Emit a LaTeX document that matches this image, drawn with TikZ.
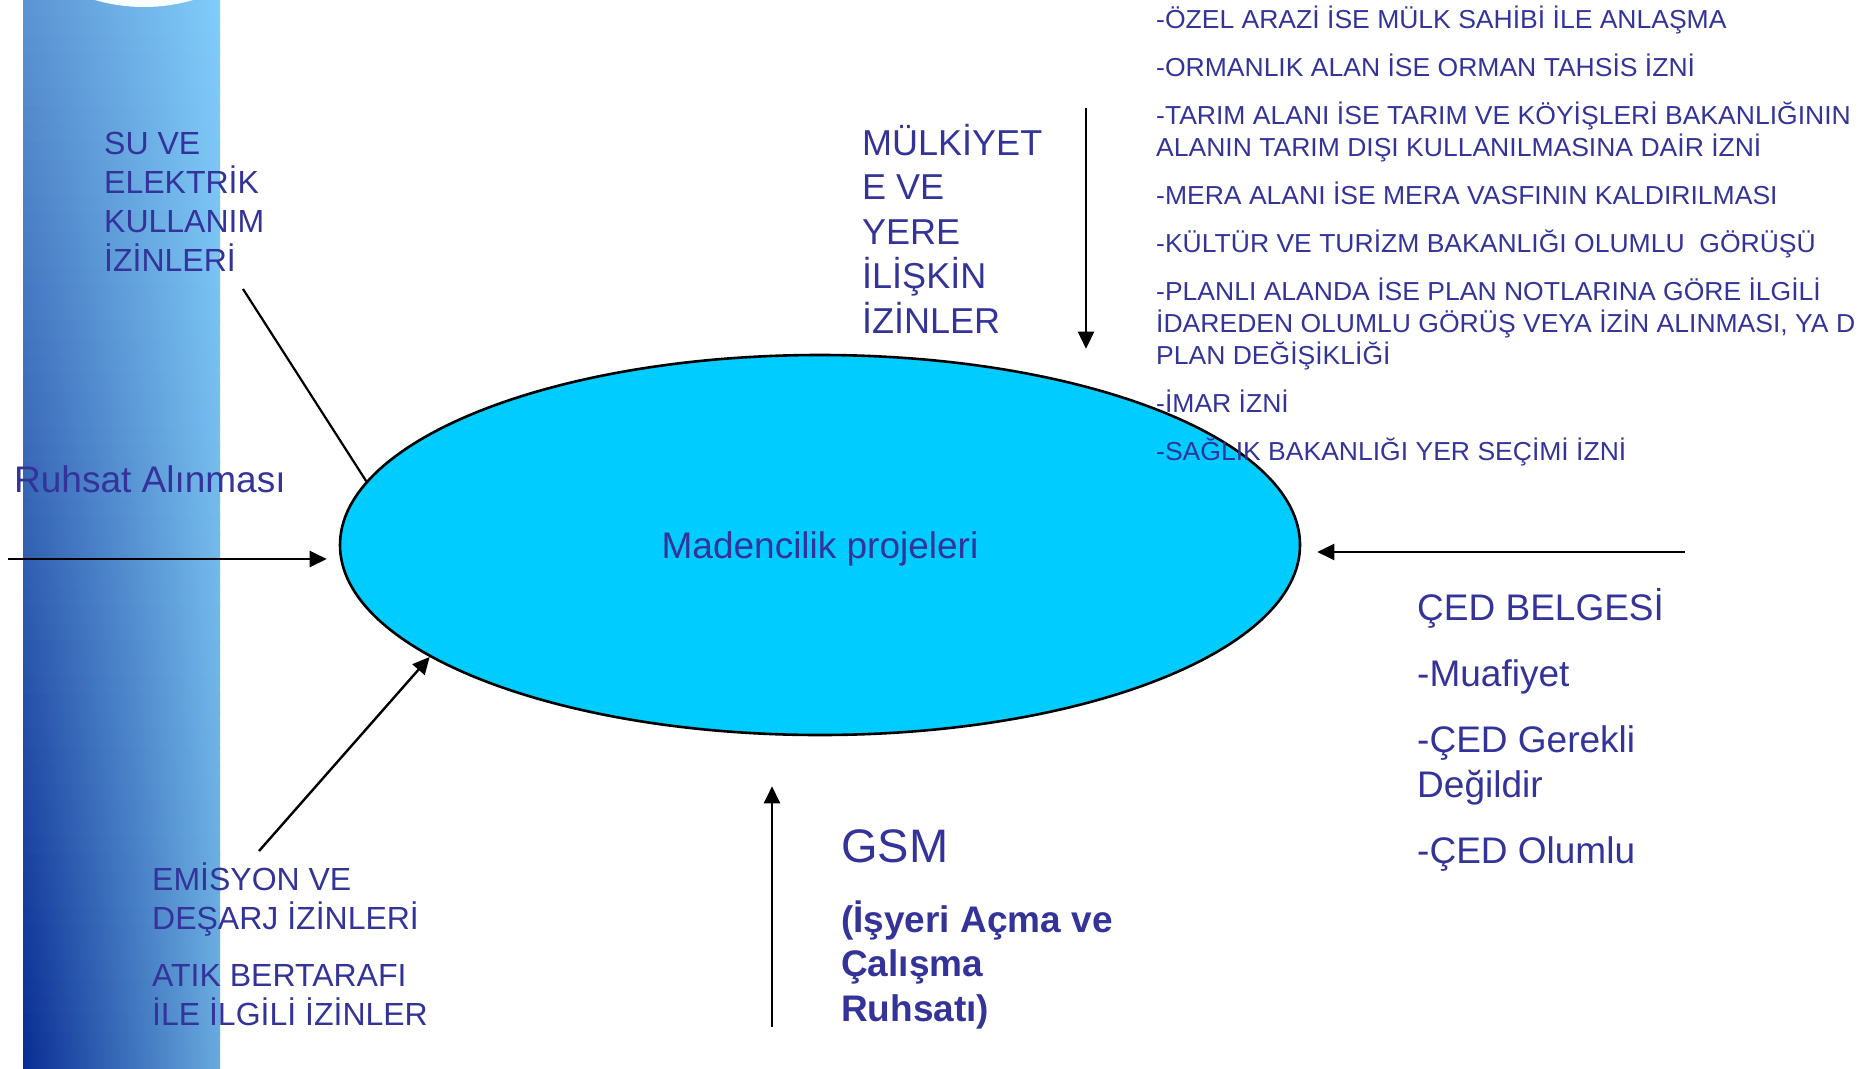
\documentclass[tikz,border=0pt]{standalone}
\usepackage{fontspec}
\setmainfont{Liberation Sans}
\newfontfamily\listefont[FakeStretch=1.02]{Liberation Sans}
\usetikzlibrary{arrows.meta,shapes.geometric}
\definecolor{metin}{RGB}{51,51,153}
\definecolor{elips}{RGB}{0,204,255}
\definecolor{bandTL}{RGB}{91,147,210}
\definecolor{bandTR}{RGB}{128,204,250}
\definecolor{bandBL}{RGB}{10,46,148}
\definecolor{bandBR}{RGB}{104,170,222}

\begin{document}
\begin{tikzpicture}[x=1pt, y=-1pt,
  yazi/.style={text=metin, anchor=base west, align=left, inner sep=0pt},
  ok/.style={-{Triangle[length=17pt,width=16pt]}, line width=2.4pt},
  cizgi/.style={line width=2.2pt}]
\useasboundingbox (0,0) rectangle (1860,1068);
\clip (0,0) rectangle (1860,1068);

% Left band
\foreach \i in {0,...,59}{
  \pgfmathtruncatemacro\p{100-\i*100/59}
  \shade[left color=bandTL!\p!bandBL, right color=bandTR!\p!bandBR]
    (23,\i*17.8) rectangle (220,\i*17.8+18.8);
}
\fill[white!96!bandTR] (144,-168) circle [radius=175pt];

% Main ellipse
\node[ellipse, draw=black, line width=2.6pt, fill=elips, minimum width=960pt,
  minimum height=380pt, inner sep=0pt, text=metin, text depth=0pt,
  font=\fontsize{37}{44}\selectfont] (proje) at (820,545) {Madencilik projeleri};

% Connectors
\coordinate (ruhsatBas) at (8,559);
\coordinate (suBas) at (243,289);
\coordinate (emisyonBas) at (259,851);
\coordinate (mulkBas) at (1086,108);
\coordinate (gsmBas) at (772,1027);
\coordinate (cedBas) at (1685,552);
\draw[ok, shorten >=12pt] (ruhsatBas) -- (ruhsatBas -| proje.west);
\draw[cizgi] (suBas) -- (proje.172.6);
\draw[ok] (emisyonBas) -- (proje.196.6);
\draw[ok, shorten >=5pt] (mulkBas) -- (mulkBas |- proje.north);
\draw[ok, shorten >=50pt] (gsmBas) -- (gsmBas |- proje.south);
\draw[ok, shorten >=16pt] (cedBas) -- (cedBas -| proje.east);

% Labels (base = last line)
\node[yazi, font=\fontsize{32}{38.7}\selectfont] (suElektrik) at (104,271)
  {SU VE\\ELEKTRİK\\KULLANIM\\İZİNLERİ};
\node[yazi, font=\fontsize{37}{44}\selectfont] (ruhsat) at (14,492) {Ruhsat Alınması};
\node[yazi, font=\fontsize{32}{39}\selectfont] (emisyon) at (152,1025)
  {EMİSYON VE\\DEŞARJ İZİNLERİ\\[18pt]ATIK BERTARAFI\\İLE İLGİLİ İZİNLER};
\node[yazi, font=\fontsize{36}{44.5}\selectfont] (mulkiyet) at (862,333)
  {MÜLKİYET\\E VE\\YERE\\İLİŞKİN\\İZİNLER};
\node[yazi, font=\fontsize{47}{56}\selectfont] (gsm) at (841,862) {GSM};
\node[yazi, font=\fontsize{37}{44.5}\selectfont\bfseries] (gsmAcik) at (841,1021)
  {(İşyeri Açma ve\\Çalışma\\Ruhsatı)};
\node[yazi, font=\fontsize{37}{45}\selectfont] (ced) at (1417,863)
  {ÇED BELGESİ\\[21pt]-Muafiyet\\[21pt]-ÇED Gerekli\\Değildir\\[21pt]-ÇED Olumlu};
\node[yazi, font=\listefont\fontsize{26}{32}\selectfont] (izinListe) at (1156,460)
  {-ÖZEL ARAZİ İSE MÜLK SAHİBİ İLE ANLAŞMA\\[16pt]
   -ORMANLIK ALAN İSE ORMAN TAHSİS İZNİ\\[16pt]
   -TARIM ALANI İSE TARIM VE KÖYİŞLERİ BAKANLIĞININ\\
   ALANIN TARIM DIŞI KULLANILMASINA DAİR İZNİ\\[16pt]
   -MERA ALANI İSE MERA VASFININ KALDIRILMASI\\[16pt]
   -KÜLTÜR VE TURİZM BAKANLIĞI OLUMLU~ GÖRÜŞÜ\\[16pt]
   -PLANLI ALANDA İSE PLAN NOTLARINA GÖRE İLGİLİ\\
   İDAREDEN OLUMLU GÖRÜŞ VEYA İZİN ALINMASI, YA D\\
   PLAN DEĞİŞİKLİĞİ\\[16pt]
   -İMAR İZNİ\\[16pt]
   -SAĞLIK BAKANLIĞI YER SEÇİMİ İZNİ};
\end{tikzpicture}
\end{document}
